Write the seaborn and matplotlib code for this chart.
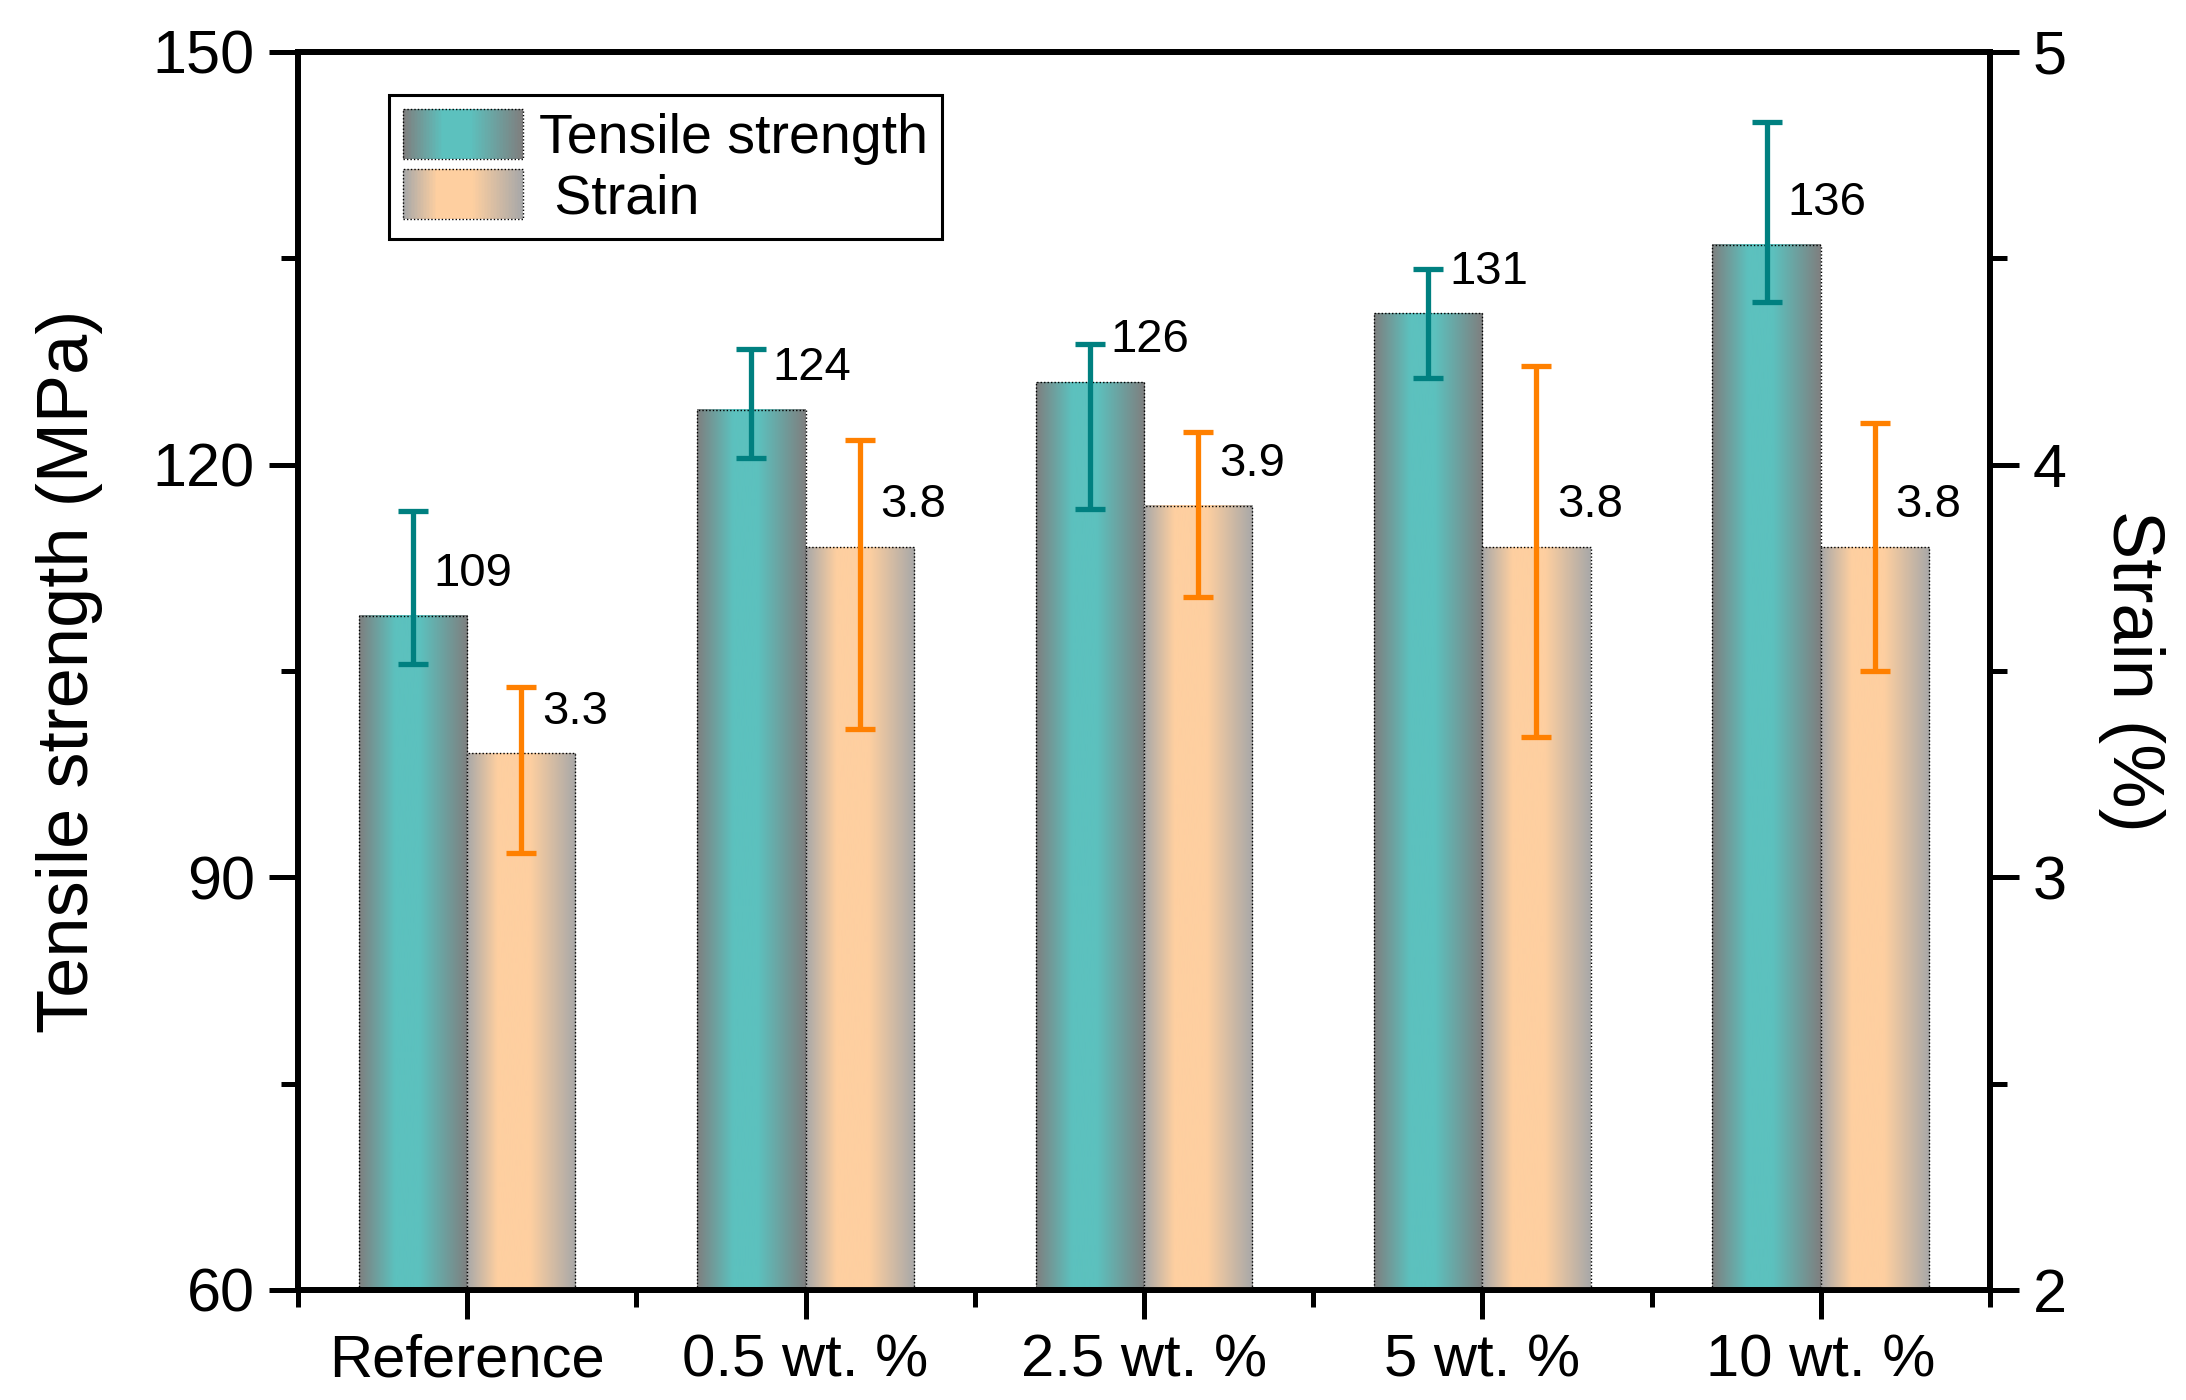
import numpy as np
import pandas as pd
import matplotlib
matplotlib.use('Agg')
import matplotlib.pyplot as plt
import seaborn as sns
from matplotlib.colors import LinearSegmentedColormap
from matplotlib.legend_handler import HandlerBase
from matplotlib.patches import Rectangle, Patch

# data
categories = ['Reference', '0.5 wt. %', '2.5 wt. %', '5 wt. %', '10 wt. %']
tensile = [109, 124, 126, 131, 136]
tensile_err_lo = [3.5, 3.5, 9.2, 4.7, 4.2]
tensile_err_hi = [7.6, 4.4, 2.8, 3.2, 8.9]
strain = [3.3, 3.8, 3.9, 3.8, 3.8]
strain_err_lo = [0.24, 0.44, 0.22, 0.46, 0.30]
strain_err_hi = [0.16, 0.26, 0.18, 0.44, 0.30]

TS = 'Tensile strength'
ST = ' Strain'

sns.set_style('ticks')
plt.rcParams['font.family'] = ['Liberation Sans', 'DejaVu Sans']
plt.rcParams.update({'text.color': 'black', 'axes.labelcolor': 'black',
                     'xtick.color': 'black', 'ytick.color': 'black'})

# gradient colormaps (gray -> colour -> gray)
teal_cmap = LinearSegmentedColormap.from_list(
    'teal_grad', [(0, '#7f7f7f'), (0.33, '#5cc1be'), (0.56, '#5cc1be'), (1, '#7f7f7f')])
peach_cmap = LinearSegmentedColormap.from_list(
    'peach_grad', [(0, '#a8a8a8'), (0.28, '#fecfa0'), (0.58, '#fecfa0'), (1, '#a8a8a8')])

df_t = pd.DataFrame({'sample': categories, 'value': tensile, 'series': TS})
df_s = pd.DataFrame({'sample': categories, 'value': strain, 'series': ST})

fig = plt.figure(figsize=(21.86, 14), dpi=100)
ax = fig.add_axes([0.1363, 0.0786, 0.7740, 0.8843])
ax2 = ax.twinx()

common = dict(x='sample', y='value', hue='series', hue_order=[TS, ST], order=categories,
              palette={TS: '#5cc1be', ST: '#fecfa0'}, width=0.64, dodge=True,
              errorbar=None, legend=False, edgecolor='black', linewidth=1.0, linestyle=(0, (1, 1.5)))
sns.barplot(data=df_t, ax=ax, **common)
sns.barplot(data=df_s, ax=ax2, **common)


def gradient_fill(axis, cmap):
    grad = cmap(np.linspace(0, 1, 256))[None, :, :]
    for p in axis.patches:
        x0, w = p.get_x(), p.get_width()
        y0, h = p.get_y(), p.get_height()
        im = axis.imshow(grad, extent=[x0, x0 + w, y0, y0 + h], aspect='auto',
                         interpolation='bilinear', zorder=p.get_zorder() - 0.1)
        im.set_clip_path(p)
        im.set_clip_box(axis.bbox)
        p.set_facecolor('none')


gradient_fill(ax, teal_cmap)
gradient_fill(ax2, peach_cmap)


def bar_centers(axis):
    return sorted(p.get_x() + p.get_width() / 2 for p in axis.patches)


xt = bar_centers(ax)
xs = bar_centers(ax2)

ax.errorbar(xt, tensile, yerr=[tensile_err_lo, tensile_err_hi], fmt='none', ecolor='#008080',
            elinewidth=3.8, capsize=11, capthick=3.8, zorder=6)
ax2.errorbar(xs, strain, yerr=[strain_err_lo, strain_err_hi], fmt='none', ecolor='#ff8000',
             elinewidth=3.8, capsize=11, capthick=3.8, zorder=6)

for x, v in zip(xt, tensile):
    ax.annotate(f'{v:.0f}', xy=(x, v), xytext=(15, 30), textcoords='offset points',
                ha='left', va='center', fontsize=34, zorder=7)
for x, v in zip(xs, strain):
    ax2.annotate(f'{v:.1f}', xy=(x, v), xytext=(15, 30), textcoords='offset points',
                 ha='left', va='center', fontsize=34, zorder=7)

# axes limits and ticks
ax.set_xlim(-0.5, 4.5)
ax.set_ylim(60, 150)
ax2.set_ylim(2, 5)
ax.set_yticks([60, 90, 120, 150])
ax.set_yticks([75, 105, 135], minor=True)
ax2.set_yticks([2, 3, 4, 5])
ax2.set_yticks([2.5, 3.5, 4.5], minor=True)
ax.set_xticks(range(len(categories)))
ax.set_xticklabels(categories)
ax.set_xticks(np.arange(-0.5, len(categories), 1), minor=True)

for a in (ax, ax2):
    a.tick_params(which='major', direction='out', length=21, width=3.6, labelsize=44, pad=10)
    a.tick_params(which='minor', direction='out', length=12, width=3.6)
    for s in a.spines.values():
        s.set_linewidth(4.2)
        s.set_color('black')
ax.tick_params(axis='x', which='major', labelsize=43)
ax2.tick_params(axis='x', which='both', length=0)

ax.set_xlabel('')
ax2.set_xlabel('')
ax.set_ylabel('Tensile strength (MPa)', fontsize=52, labelpad=36)
ax2.set_ylabel('Strain (%)', fontsize=52, rotation=270, va='bottom', labelpad=22)


class GradHandler(HandlerBase):
    def __init__(self, cmap):
        super().__init__()
        self.cmap = cmap

    def create_artists(self, legend, orig_handle, xdescent, ydescent, width, height, fontsize, trans):
        n = 80
        arts = []
        for i in range(n):
            arts.append(Rectangle((-xdescent + width * i / n, -ydescent), width / n * 1.05, height,
                                  facecolor=self.cmap(i / (n - 1)), edgecolor='none', transform=trans))
        arts.append(Rectangle((-xdescent, -ydescent), width, height, fill=False, edgecolor='black',
                              linewidth=1.0, linestyle=(0, (1, 1.5)), transform=trans))
        return arts


h_t = Patch(label=TS)
h_s = Patch(label=ST)
leg = ax2.legend(handles=[h_t, h_s], handler_map={h_t: GradHandler(teal_cmap), h_s: GradHandler(peach_cmap)},
                 loc='upper left', bbox_to_anchor=(0.054, 0.965), borderaxespad=0, fontsize=40,
                 frameon=True, fancybox=False, edgecolor='black', framealpha=1,
                 handlelength=2.15, handleheight=1.0, handletextpad=0.3, labelspacing=0.08, borderpad=0.25)
leg.get_frame().set_linewidth(2.2)

fig.savefig('out.png', dpi=100)
